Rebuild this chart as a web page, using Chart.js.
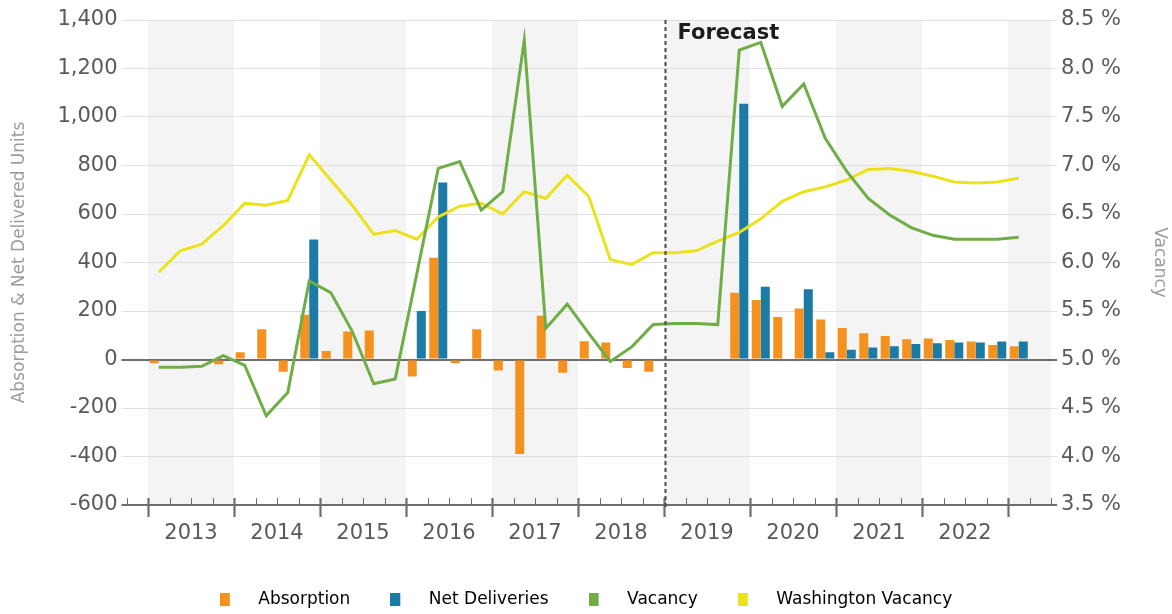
<!DOCTYPE html>
<html>
<head>
<meta charset="utf-8">
<title>Absorption, Net Deliveries and Vacancy</title>
<script src="https://cdn.jsdelivr.net/npm/chart.js@4.4.1/dist/chart.umd.min.js"></script>
<style>
  html, body { margin: 0; padding: 0; background: #ffffff; overflow: hidden; }
  #wrap { width: 1172px; height: 618px; position: relative; }
</style>
</head>
<body>
<div id="wrap"><canvas id="chart"></canvas></div>
<script>
// Quarterly slots on the category axis (one empty slot at each end)
const quarters = [
  '2012 Q4',
  '2013 Q1', '2013 Q2', '2013 Q3', '2013 Q4',
  '2014 Q1', '2014 Q2', '2014 Q3', '2014 Q4',
  '2015 Q1', '2015 Q2', '2015 Q3', '2015 Q4',
  '2016 Q1', '2016 Q2', '2016 Q3', '2016 Q4',
  '2017 Q1', '2017 Q2', '2017 Q3', '2017 Q4',
  '2018 Q1', '2018 Q2', '2018 Q3', '2018 Q4',
  '2019 Q1', '2019 Q2', '2019 Q3', '2019 Q4',
  '2020 Q1', '2020 Q2', '2020 Q3', '2020 Q4',
  '2021 Q1', '2021 Q2', '2021 Q3', '2021 Q4',
  '2022 Q1', '2022 Q2', '2022 Q3', '2022 Q4',
  '2023 Q1', '2023 Q2'
];

// Year labels shown under the axis
const yearLabels = ['2013', '2014', '2015', '2016', '2017', '2018', '2019', '2020', '2021', '2022'];

// Years drawn with a light background band
const shadedYears = ['2013', '2015', '2017', '2019', '2021', '2023'];

// Start of the forecast period
const forecastStart = '2019 Q1';
const forecastLabel = 'Forecast';

// Series values, 2013 Q1 .. 2023 Q1 (units)
const absorption = [
  -15, 0, 0, -20,
  30, 125, -50, 185,
  35, 115, 120, 0,
  -70, 420, -15, 125,
  -45, -390, 180, -55,
  75, 70, -35, -50,
  null, null, null, 275,
  245, 175, 210, 165,
  130, 108, 97, 83,
  87, 80, 74, 60,
  55
];

const netDeliveries = [
  null, null, null, null,
  null, null, null, 495,
  null, null, null, null,
  200, 730, null, null,
  null, null, null, null,
  null, null, null, null,
  null, null, null, 1055,
  300, null, 290, 30,
  40, 50, 55, 64,
  67, 70, 70, 74,
  74
];

// Vacancy rates, 2013 Q1 .. 2023 Q1 (percent)
const vacancy = [
  4.92, 4.92, 4.93, 5.04,
  4.94, 4.42, 4.66, 5.81,
  5.69, 5.29, 4.75, 4.80,
  5.88, 6.97, 7.04, 6.54,
  6.73, 8.29, 5.32, 5.57,
  5.27, 4.98, 5.13, 5.36,
  5.37, 5.37, 5.36, 8.19,
  8.27, 7.61, 7.84, 7.28,
  6.94, 6.66, 6.49, 6.36,
  6.28, 6.24, 6.24, 6.24,
  6.26
];

const washingtonVacancy = [
  5.90, 6.12, 6.19, 6.38,
  6.61, 6.59, 6.64, 7.11,
  6.85, 6.59, 6.29, 6.33,
  6.24, 6.47, 6.58, 6.61,
  6.50, 6.73, 6.66, 6.90,
  6.68, 6.03, 5.98, 6.10,
  6.10, 6.12, 6.22, 6.31,
  6.45, 6.63, 6.73, 6.78,
  6.85, 6.96, 6.97, 6.94,
  6.89, 6.83, 6.82, 6.83,
  6.87
];

// Place a 2013 Q1 .. 2023 Q1 series into the padded quarter slots
const toSlots = arr => [null, ...arr, null];

const COLORS = {
  absorption: '#f5921f',
  deliveries: '#1b7ba5',
  vacancy: '#6fae47',
  washington: '#ece21c',
  text: '#5a5a5a',
  title: '#9b9b9b',
  grid: '#dfdfdf',
  axis: '#6e6e6e',
  band: '#f4f4f4'
};

Chart.defaults.font.family = '"DejaVu Sans", "Liberation Sans", sans-serif';
Chart.defaults.color = COLORS.text;

// Small legend swatch: a narrow square marker with room after it
function makeSwatch(color) {
  const c = document.createElement('canvas');
  c.width = 30;
  c.height = 13;
  const g = c.getContext('2d');
  g.fillStyle = color;
  g.fillRect(0, 0, 10, 13);
  return c;
}

function formatUnits(v) {
  return String(v).replace(/\B(?=(\d{3})+(?!\d))/g, ',');
}

// Helpers for quarter boundaries on the category scale
function slotWidth(xs) {
  return xs.getPixelForValue(1) - xs.getPixelForValue(0);
}
function slotLeft(xs, k) {
  return xs.getPixelForValue(k) - slotWidth(xs) / 2;
}

const yearBands = {
  id: 'yearBands',
  beforeDraw(chart) {
    const { ctx, chartArea } = chart;
    const xs = chart.scales.x;
    ctx.save();
    ctx.fillStyle = COLORS.band;
    shadedYears.forEach(yr => {
      const k = quarters.indexOf(yr + ' Q1');
      if (k < 0) return;
      const x0 = slotLeft(xs, k);
      const x1 = Math.min(slotLeft(xs, k + 4), chartArea.right);
      ctx.fillRect(x0, chartArea.top, x1 - x0, chartArea.bottom - chartArea.top);
    });
    ctx.restore();
  }
};

const quarterTicks = {
  id: 'quarterTicks',
  afterDatasetsDraw(chart) {
    const { ctx, chartArea } = chart;
    const xs = chart.scales.x;
    const base = chartArea.bottom;
    ctx.save();
    ctx.strokeStyle = COLORS.axis;
    for (let k = 0; k <= quarters.length; k++) {
      const x = k < quarters.length ? slotLeft(xs, k) : chartArea.right;
      const major = k < quarters.length && quarters[k].endsWith('Q1');
      ctx.beginPath();
      ctx.lineWidth = major ? 2.2 : 1;
      ctx.moveTo(Math.round(x) + 0.5, base - 7);
      ctx.lineTo(Math.round(x) + 0.5, major ? base + 12 : base);
      ctx.stroke();
    }

    // Forecast divider
    const fk = quarters.indexOf(forecastStart);
    const fx = Math.round(slotLeft(xs, fk)) + 1.5;
    ctx.beginPath();
    ctx.setLineDash([4, 3]);
    ctx.lineWidth = 2;
    ctx.strokeStyle = '#4a4a4a';
    ctx.moveTo(fx, chartArea.top);
    ctx.lineTo(fx, base + 2);
    ctx.stroke();
    ctx.setLineDash([]);
    ctx.fillStyle = '#1c1c1c';
    ctx.font = 'bold 21px "DejaVu Sans", sans-serif';
    ctx.textBaseline = 'alphabetic';
    ctx.textAlign = 'left';
    ctx.fillText(forecastLabel, fx + 12, chartArea.top + 19);
    ctx.restore();
  }
};

const isAxisLine = (ctx, values) => ctx.tick && values.includes(ctx.tick.value);

new Chart(document.getElementById('chart'), {
  type: 'bar',
  data: {
    labels: quarters,
    datasets: [
      {
        type: 'bar',
        label: 'Absorption',
        data: toSlots(absorption),
        backgroundColor: COLORS.absorption,
        yAxisID: 'y',
        order: 2,
        categoryPercentage: 0.84,
        barPercentage: 1.0
      },
      {
        type: 'bar',
        label: 'Net Deliveries',
        data: toSlots(netDeliveries),
        backgroundColor: COLORS.deliveries,
        yAxisID: 'y',
        order: 2,
        categoryPercentage: 0.84,
        barPercentage: 1.0
      },
      {
        type: 'line',
        label: 'Vacancy',
        data: toSlots(vacancy),
        borderColor: COLORS.vacancy,
        backgroundColor: COLORS.vacancy,
        borderWidth: 3,
        pointRadius: 0,
        tension: 0,
        yAxisID: 'y1',
        order: 0
      },
      {
        type: 'line',
        label: 'Washington Vacancy',
        data: toSlots(washingtonVacancy),
        borderColor: COLORS.washington,
        backgroundColor: COLORS.washington,
        borderWidth: 3,
        pointRadius: 0,
        tension: 0,
        yAxisID: 'y1',
        order: 1
      }
    ]
  },
  options: {
    responsive: true,
    maintainAspectRatio: false,
    devicePixelRatio: 1,
    animation: false,
    layout: { padding: { top: 20, left: 0, right: 0, bottom: 0 } },
    plugins: {
      tooltip: { enabled: false },
      legend: {
        position: 'bottom',
        labels: {
          usePointStyle: true,
          pointStyleWidth: 30,
          padding: 40,
          color: COLORS.text,
          font: { size: 17 },
          generateLabels(chart) {
            return chart.data.datasets.map((ds, i) => {
              const color = ds.type === 'line' ? ds.borderColor : ds.backgroundColor;
              return {
                text: ds.label,
                fillStyle: color,
                strokeStyle: color,
                lineWidth: 0,
                pointStyle: makeSwatch(color),
                hidden: false,
                datasetIndex: i
              };
            });
          }
        }
      }
    },
    scales: {
      x: {
        type: 'category',
        offset: true,
        grid: { display: false, drawTicks: false },
        border: { display: false },
        ticks: {
          autoSkip: false,
          maxRotation: 0,
          minRotation: 0,
          padding: 16,
          labelOffset: -10.75,
          color: COLORS.text,
          font: { size: 21 },
          callback: (v, i) => {
            const q = quarters[i];
            const yr = q.slice(0, 4);
            return q.endsWith('Q3') && yearLabels.includes(yr) ? yr : '';
          }
        },
        afterFit: s => { s.height = 46; }
      },
      y: {
        position: 'left',
        min: -600,
        max: 1400,
        ticks: {
          stepSize: 200,
          padding: 4,
          color: COLORS.text,
          font: { size: 21 },
          callback: v => formatUnits(v)
        },
        grid: {
          tickLength: 5,
          color: c => isAxisLine(c, [0, -600]) ? COLORS.axis : COLORS.grid,
          lineWidth: c => isAxisLine(c, [0, -600]) ? 2 : 1
        },
        border: { display: false },
        title: {
          display: true,
          text: 'Absorption & Net Delivered Units',
          color: COLORS.title,
          font: { size: 17 },
          padding: { top: 9, bottom: 0 }
        },
        afterFit: s => { s.width = 126.5; }
      },
      y1: {
        position: 'right',
        min: 3.5,
        max: 8.5,
        ticks: {
          stepSize: 0.5,
          padding: 4,
          color: COLORS.text,
          font: { size: 21 },
          callback: v => v.toFixed(1) + ' %'
        },
        grid: {
          drawOnChartArea: false,
          tickLength: 6,
          color: c => isAxisLine(c, [5, 3.5]) ? COLORS.axis : COLORS.grid,
          lineWidth: c => isAxisLine(c, [5, 3.5]) ? 2 : 1
        },
        border: { display: false },
        title: {
          display: true,
          text: 'Vacancy',
          color: COLORS.title,
          font: { size: 17 },
          padding: { top: 2, bottom: 0 }
        },
        afterFit: s => { s.width = 121; }
      }
    }
  },
  plugins: [yearBands, quarterTicks]
});
</script>
</body>
</html>
